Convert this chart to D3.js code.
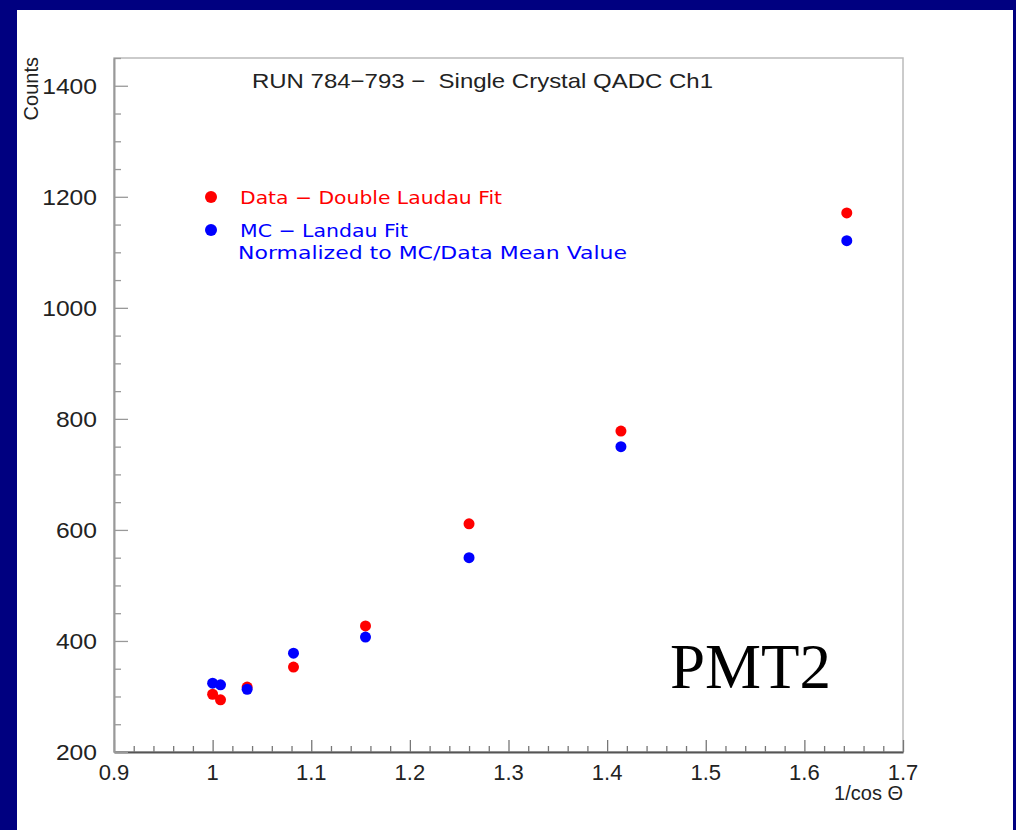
<!DOCTYPE html>
<html>
<head>
<meta charset="utf-8">
<script src="https://cdn.jsdelivr.net/npm/d3@7"></script>
<style>
  html, body { margin: 0; padding: 0; background: #000080; }
  svg { display: block; }
</style>
</head>
<body>
<svg id="chart" width="1016" height="830"></svg>
<script>
// 1/cos(theta) positions of the runs
const xValues = [1.0, 1.008, 1.035, 1.082, 1.155, 1.26, 1.414, 1.643];
// data, double landau fit
const dataCounts = [304, 294, 317, 353, 427, 611, 778, 1171];
// MC, landau fit (normalized)
const mcCounts = [324, 321, 313, 378, 407, 550, 750, 1121];

const xTicks = [0.9, 1, 1.1, 1.2, 1.3, 1.4, 1.5, 1.6, 1.7];
const yTicks = [200, 400, 600, 800, 1000, 1200, 1400];

const svg = d3.select('#chart');

// white page inside the navy border
svg.append('rect').attr('x', 17).attr('y', 10).attr('width', 996).attr('height', 820).attr('fill', '#fff');

const plotLeft = 114, plotRight = 903, plotTop = 58, plotBottom = 752;
const x = d3.scaleLinear().domain([0.9, 1.7]).range([plotLeft, plotRight]);
const y = d3.scaleLinear().domain([200, 1450]).range([plotBottom, plotTop]);

const font = 'Liberation Sans, Arial, sans-serif';

// frame
svg.append('rect').attr('x', plotLeft).attr('y', plotTop)
  .attr('width', plotRight - plotLeft).attr('height', plotBottom - plotTop)
  .attr('fill', 'none').attr('stroke', '#bbb').attr('stroke-width', 1.5);

// x axis, ticks pointing inward
const xAxis = d3.axisTop(x).tickValues(d3.range(0, 41).map(i => 0.9 + i * 0.02))
  .tickSize(0).tickFormat('');
const gx = svg.append('g').attr('transform', `translate(0,${plotBottom})`).call(xAxis);
gx.select('.domain').attr('stroke', '#555').attr('stroke-width', 2);
gx.selectAll('.tick line').attr('stroke', '#777').attr('stroke-width', 1.3)
  .attr('y2', (d, i) => i % 5 === 0 ? -12 : -6);

svg.selectAll('.xlab').data(xTicks).enter().append('text')
  .attr('x', d => x(d)).attr('y', 780).attr('text-anchor', 'middle')
  .attr('font-family', font).attr('font-size', 22).attr('fill', '#222')
  .text(d => d3.format('~g')(d));

// y axis
const yAxis = d3.axisRight(y).tickValues(d3.range(0, 26).map(i => 200 + i * 50))
  .tickSize(0).tickFormat('');
const gy = svg.append('g').attr('transform', `translate(${plotLeft},0)`).call(yAxis);
gy.select('.domain').attr('stroke', '#999').attr('stroke-width', 2);
gy.selectAll('.tick line').attr('stroke', '#999').attr('stroke-width', 1.3)
  .attr('x2', (d, i) => i % 4 === 0 ? 14 : 7);

svg.selectAll('.ylab').data(yTicks).enter().append('text')
  .attr('x', 97).attr('y', d => y(d) + 8).attr('text-anchor', 'end')
  .attr('font-family', font).attr('font-size', 22).attr('fill', '#222')
  .attr('textLength', d => String(d).length * 13.7).attr('lengthAdjust', 'spacingAndGlyphs')
  .text(d => d);

// axis titles
svg.append('text').attr('transform', 'translate(38,57) rotate(-90)').attr('text-anchor', 'end')
  .attr('font-family', font).attr('font-size', 20).attr('fill', '#222').text('Counts');
svg.append('text').attr('x', 903).attr('y', 800).attr('text-anchor', 'end')
  .attr('font-family', font).attr('font-size', 20).attr('fill', '#222').text('1/cos Θ');

// title
svg.append('text').attr('x', 252).attr('y', 88)
  .attr('font-family', font).attr('font-size', 21).attr('fill', '#222')
  .style('white-space', 'pre')
  .attr('textLength', 461).attr('lengthAdjust', 'spacingAndGlyphs')
  .text('RUN 784\u2212793 \u2212  Single Crystal QADC Ch1');

// points
svg.selectAll('.dat').data(xValues).enter().append('circle')
  .attr('cx', d => x(d)).attr('cy', (d, i) => y(dataCounts[i])).attr('r', 5.5).attr('fill', '#ff0000');
svg.selectAll('.mc').data(xValues).enter().append('circle')
  .attr('cx', d => x(d)).attr('cy', (d, i) => y(mcCounts[i])).attr('r', 5.5).attr('fill', '#0000ff');

// legend
const legFont = 'DejaVu Sans, sans-serif';
svg.append('circle').attr('cx', 211).attr('cy', 197).attr('r', 6).attr('fill', '#ff0000');
svg.append('text').attr('x', 240).attr('y', 204).attr('font-family', legFont).attr('font-size', 18)
  .attr('fill', '#ff0000').attr('textLength', 262).attr('lengthAdjust', 'spacingAndGlyphs')
  .text('Data \u2212 Double Laudau Fit');
svg.append('circle').attr('cx', 211).attr('cy', 230).attr('r', 6).attr('fill', '#0000ff');
svg.append('text').attr('x', 240).attr('y', 237).attr('font-family', legFont).attr('font-size', 18)
  .attr('fill', '#0000ff').attr('textLength', 168).attr('lengthAdjust', 'spacingAndGlyphs')
  .text('MC \u2212 Landau Fit');
svg.append('text').attr('x', 238).attr('y', 259).attr('font-family', legFont).attr('font-size', 18)
  .attr('fill', '#0000ff').attr('textLength', 389).attr('lengthAdjust', 'spacingAndGlyphs')
  .text('Normalized to MC/Data Mean Value');

// PMT label
svg.append('text').attr('x', 670).attr('y', 688).attr('font-family', 'Liberation Serif, Times New Roman, serif')
  .attr('font-size', 63).attr('fill', '#000').text('PMT2');
</script>
</body>
</html>
